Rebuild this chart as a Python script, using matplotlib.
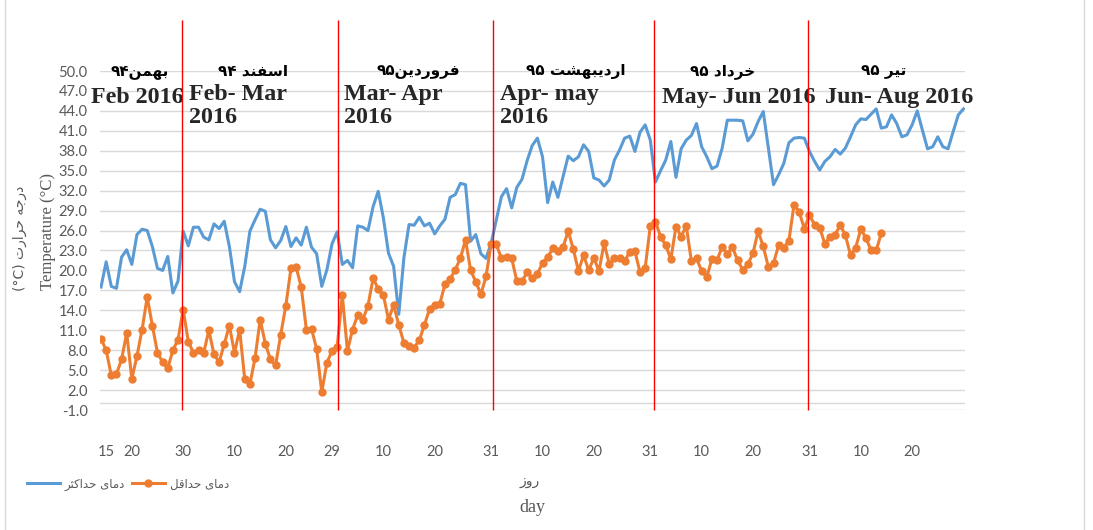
import re
import matplotlib
matplotlib.use("Agg")
import matplotlib.pyplot as plt
from matplotlib.lines import Line2D

# daily max / min temperature (deg C), one value per day starting 14 Bahman 1394
t_max = [17.5, 21.3, 17.6, 17.3, 22.0, 23.1, 20.9, 25.4, 26.2, 26.0,
         23.6, 20.3, 20.0, 22.1, 16.6, 18.4, 25.9, 23.7, 26.5, 26.5,
         25.0, 24.6, 27.0, 26.3, 27.4, 23.6, 18.3, 16.8, 20.6, 25.9,
         27.6, 29.2, 28.9, 24.6, 23.4, 24.5, 26.6, 23.6, 24.9, 23.8,
         26.5, 23.5, 22.5, 17.6, 20.1, 24.0, 25.8, 20.9, 21.5, 20.4,
         26.7, 26.5, 26.0, 29.6, 31.9, 27.9, 22.6, 20.6, 13.4, 21.9,
         26.9, 26.8, 28.0, 26.7, 27.1, 25.5, 26.7, 27.7, 31.0, 31.4,
         33.1, 32.9, 24.4, 25.4, 22.5, 21.8, 24.1, 27.6, 31.1, 32.3,
         29.4, 32.5, 33.7, 36.5, 38.8, 39.9, 37.1, 30.2, 33.3, 31.0,
         34.1, 37.2, 36.5, 37.1, 38.9, 37.9, 33.9, 33.6, 32.7, 33.6,
         36.6, 38.1, 39.9, 40.2, 37.9, 40.8, 41.9, 39.6, 33.3, 35.0,
         36.6, 39.4, 34.0, 38.3, 39.6, 40.3, 42.1, 38.6, 37.1, 35.3,
         35.7, 38.4, 42.6, 42.6, 42.6, 42.5, 39.5, 40.5, 42.4, 43.9,
         38.4, 32.9, 34.4, 36.1, 39.2, 39.9, 40.0, 39.9, 37.9, 36.4,
         35.1, 36.4, 37.1, 38.2, 37.5, 38.4, 40.1, 41.9, 42.8, 42.7,
         43.5, 44.3, 41.4, 41.6, 43.4, 42.1, 40.1, 40.4, 41.9, 44.0,
         41.1, 38.3, 38.6, 40.1, 38.6, 38.3, 40.9, 43.4, 44.3]
t_min = [9.7, 8.0, 4.2, 4.4, 6.6, 10.6, 3.7, 7.1, 11.1, 16.0,
         11.7, 7.6, 6.2, 5.3, 8.0, 9.6, 14.1, 9.3, 7.6, 8.0,
         7.6, 11.0, 7.4, 6.2, 8.9, 11.7, 7.6, 11.1, 3.6, 2.9,
         6.8, 12.6, 9.0, 6.6, 5.7, 10.3, 14.7, 20.3, 20.5, 17.5,
         11.1, 11.2, 8.2, 1.7, 6.1, 7.9, 8.5, 16.3, 7.9, 11.1,
         13.3, 12.6, 14.7, 18.8, 17.2, 16.3, 12.6, 14.8, 11.8, 9.1,
         8.6, 8.4, 9.5, 11.8, 14.2, 14.8, 15.0, 17.9, 18.7, 20.1,
         21.8, 24.6, 20.0, 18.3, 16.4, 19.1, 24.0, 23.9, 21.8, 22.0,
         21.8, 18.4, 18.4, 19.7, 18.8, 19.5, 21.1, 22.0, 23.3, 22.9,
         23.5, 25.9, 23.2, 19.9, 22.3, 20.0, 21.9, 19.9, 24.1, 21.0,
         21.8, 21.8, 21.4, 22.8, 22.9, 19.7, 20.4, 26.7, 27.3, 25.1,
         23.8, 21.7, 26.6, 25.1, 26.7, 21.4, 21.8, 19.9, 19.0, 21.7,
         21.6, 23.5, 22.5, 23.5, 21.5, 20.1, 20.9, 22.6, 25.9, 23.6,
         20.5, 21.1, 23.8, 23.4, 24.5, 29.9, 28.8, 26.3, 28.3, 26.9,
         26.4, 24.0, 25.1, 25.4, 26.8, 25.3, 22.3, 23.4, 26.2, 24.9,
         23.0, 23.0, 25.6]

tick_days = [1, 6, 16, 26, 36, 45, 55, 65, 76, 86, 96, 107, 117, 127, 138, 148, 158]
tick_labels = ['15', '20', '30', '10', '20', '29', '10', '20', '31', '10',
               '20', '31', '10', '20', '31', '10', '20']
month_edges = [15.8, 46.1, 76.3, 107.8, 137.7]
month_fa = ['بهمن۹۴', 'اسفند ۹۴', 'فروردین۹۵', 'اردیبهشت ۹۵', 'خرداد ۹۵', 'تیر ۹۵']
month_fa_x = [7.6, 29.6, 61.9, 92.4, 121.0, 152.5]
month_en = ['Feb 2016', 'Feb- Mar\n2016', 'Mar- Apr\n2016', 'Apr- may\n2016',
            'May- Jun 2016', 'Jun- Aug 2016']
month_en_x = [7.0, 17.1, 47.3, 77.8, 109.3, 141.0]

# contextual forms: isolated, final, initial, medial
FORMS = {
    'ا': ('\uFE8D', '\uFE8E', None, None),
    'ب': ('\uFE8F', '\uFE90', '\uFE91', '\uFE92'),
    'ت': ('\uFE95', '\uFE96', '\uFE97', '\uFE98'),
    'ث': ('\uFE99', '\uFE9A', '\uFE9B', '\uFE9C'),
    'ج': ('\uFE9D', '\uFE9E', '\uFE9F', '\uFEA0'),
    'ح': ('\uFEA1', '\uFEA2', '\uFEA3', '\uFEA4'),
    'خ': ('\uFEA5', '\uFEA6', '\uFEA7', '\uFEA8'),
    'د': ('\uFEA9', '\uFEAA', None, None),
    'ر': ('\uFEAD', '\uFEAE', None, None),
    'ز': ('\uFEAF', '\uFEB0', None, None),
    'س': ('\uFEB1', '\uFEB2', '\uFEB3', '\uFEB4'),
    'ش': ('\uFEB5', '\uFEB6', '\uFEB7', '\uFEB8'),
    'ف': ('\uFED1', '\uFED2', '\uFED3', '\uFED4'),
    'ق': ('\uFED5', '\uFED6', '\uFED7', '\uFED8'),
    'ک': ('\uFB8E', '\uFB8F', '\uFB90', '\uFB91'),
    'ل': ('\uFEDD', '\uFEDE', '\uFEDF', '\uFEE0'),
    'م': ('\uFEE1', '\uFEE2', '\uFEE3', '\uFEE4'),
    'ن': ('\uFEE5', '\uFEE6', '\uFEE7', '\uFEE8'),
    'ه': ('\uFEE9', '\uFEEA', '\uFEEB', '\uFEEC'),
    'و': ('\uFEED', '\uFEEE', None, None),
    'ی': ('\uFBFC', '\uFBFD', '\uFBFE', '\uFBFF'),
}


def rtl(text):
    out = []
    for k, ch in enumerate(text):
        if ch not in FORMS:
            out.append(ch)
            continue
        prev = text[k - 1] if k > 0 else ''
        nxt = text[k + 1] if k + 1 < len(text) else ''
        j_prev = prev in FORMS and FORMS[prev][2] is not None
        j_next = nxt in FORMS and FORMS[ch][2] is not None
        iso, fin, ini, med = FORMS[ch]
        if j_prev and j_next:
            out.append(med)
        elif j_prev:
            out.append(fin)
        elif j_next:
            out.append(ini)
        else:
            out.append(iso)
    s = ''.join(out)[::-1]
    return re.sub('[۰-۹0-9]+', lambda m: m.group(0)[::-1], s)


GRAY = '#595959'
BLUE = '#5B9BD5'
ORANGE = '#ED7D31'
TXT = '#262626'

fig = plt.figure(figsize=(10.93, 5.30), dpi=100)
ax = fig.add_axes([100 / 1093, 1 - 410 / 530, 865 / 1093, 339 / 530])

# chart-area frame (left / right edges)
for fx in (5 / 1093, 1084 / 1093):
    fig.add_artist(Line2D([fx, fx], [0, 1], color='#D9D9D9', lw=1))

days_max = list(range(len(t_max)))
days_min = list(range(len(t_min)))
ax.plot(days_max, t_max, color=BLUE, lw=2.2, zorder=3)
ax.plot(days_min, t_min, color=ORANGE, lw=2.2, marker='o', markersize=5, zorder=4)

ax.set_xlim(-0.2, 168.3)
ax.set_ylim(-1, 50)
ax.set_yticks([-1 + 3 * k for k in range(18)])
ax.yaxis.set_major_formatter(matplotlib.ticker.FormatStrFormatter('%.1f'))
ax.grid(axis='y', color='#D9D9D9', lw=1)
ax.axhline(0, color='#D9D9D9', lw=1)
ax.set_axisbelow(True)
for sp in ax.spines.values():
    sp.set_visible(False)
ax.set_xticks(tick_days)
ax.set_xticklabels(tick_labels)
ax.tick_params(axis='x', length=0, pad=25, labelsize=10.5, labelcolor=GRAY)
ax.tick_params(axis='y', length=0, pad=9, labelsize=10.5, labelcolor=GRAY)
for lab in ax.get_xticklabels() + ax.get_yticklabels():
    lab.set_family('Lato')

ax.vlines(month_edges, -1, 57.7, color='red', lw=1, clip_on=False, zorder=5)

for x, s in zip(month_fa_x, month_fa):
    ax.text(x, 50.0, rtl(s), ha='center', va='center', fontsize=11,
            fontweight='bold', family='DejaVu Sans', color='black', clip_on=False)
for x, s in zip(month_en_x, month_en):
    if '\n' in s:
        ax.text(x, 48.0, s, ha='left', va='top', fontsize=17.3, fontweight='bold',
                family='Liberation Serif', color=TXT, linespacing=1.12)
    else:
        ax.text(x, 46.0, s, ha='center' if x < 10 else 'left', va='center',
                fontsize=17.3, fontweight='bold', family='Liberation Serif', color=TXT)

fig.text(20 / 1093, 1 - 238 / 530, '(°C) ' + rtl('درجه حرارت'), rotation=90,
         ha='center', va='center', fontsize=10, color=GRAY, family='DejaVu Sans')
fig.text(48 / 1093, 1 - 232 / 530, 'Temperature (°C)', rotation=90,
         ha='center', va='center', fontsize=12, color=GRAY, family='Liberation Serif')
fig.text(530 / 1093, 1 - 481 / 530, rtl('روز'), ha='center', va='center',
         fontsize=10, color=GRAY, family='DejaVu Sans')
fig.text(532 / 1093, 1 - 507 / 530, 'day', ha='center', va='center',
         fontsize=13, color=GRAY, family='Liberation Serif')

handles = [Line2D([], [], color=BLUE, lw=2.2),
           Line2D([], [], color=ORANGE, lw=2.2, marker='o', markersize=5)]
fig.legend(handles, [rtl('دمای حداکثر'), rtl('دمای حداقل')], ncol=2,
           loc='center left', bbox_to_anchor=(16 / 1093, 1 - 484 / 530),
           frameon=False, labelcolor=GRAY, handlelength=2.8,
           handletextpad=0.4, columnspacing=0.6, prop={'family': 'DejaVu Sans', 'size': 8.5})

fig.savefig('out.png', dpi=100)
